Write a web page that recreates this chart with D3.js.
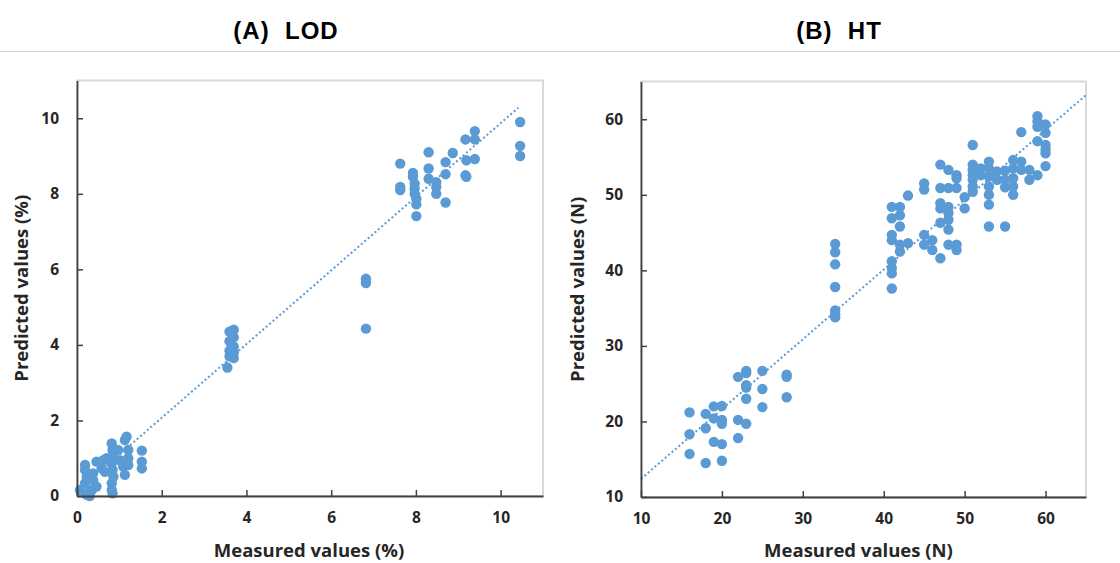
<!DOCTYPE html>
<html>
<head>
<meta charset="utf-8">
<script src="https://cdn.jsdelivr.net/npm/d3@7"></script>
<style>
  html, body { margin: 0; padding: 0; background: #ffffff; }
  svg { display: block; }
  text { white-space: pre; }
</style>
</head>
<body>
<svg id="chart" width="1120" height="563"></svg>
<script>
// ---- Panel A: LOD (%) ----
const lodMeasured = [
  0.07, 0.23, 0.30, 0.25, 0.28, 0.19, 0.19, 0.23, 0.19, 0.38, 0.46, 0.46, 0.35, 0.38,
  0.58, 0.62, 0.66, 0.70,
  0.82, 0.84, 0.84, 0.82, 0.84, 0.86, 0.82, 0.82, 0.84,
  0.97, 1.01, 1.09, 1.13, 1.17, 1.13, 1.21, 1.21, 1.21, 1.53, 1.53, 1.53,
  3.60, 3.70, 3.60, 3.70, 3.65, 3.70, 3.60, 3.70, 3.60, 3.70, 3.55, 3.65,
  6.82, 6.82, 6.82,
  7.63, 7.63, 7.63, 7.93, 7.93, 7.97, 7.97, 7.97, 8.01, 8.01, 8.01,
  8.30, 8.30, 8.30, 8.48, 8.48, 8.48, 8.70, 8.70, 8.70, 8.87,
  9.17, 9.19, 9.17, 9.19, 9.39, 9.39, 9.39,
  10.46, 10.46, 10.46
];
const lodPredicted = [
  0.16, 0.03, 0.00, 0.05, 0.10, 0.82, 0.69, 0.51, 0.34, 0.42, 0.25, 0.91, 0.16, 0.60,
  0.73, 0.95, 0.64, 1.00,
  1.39, 1.22, 1.04, 0.86, 0.69, 0.51, 0.34, 0.16, 0.07,
  1.22, 0.95, 0.78, 0.56, 1.57, 1.48, 1.22, 1.00, 0.82, 1.20, 0.91, 0.73,
  4.35, 4.40, 4.10, 4.20, 4.00, 3.95, 3.85, 3.80, 3.70, 3.65, 3.40, 3.75,
  5.75, 5.64, 4.43,
  8.80, 8.18, 8.10, 8.55, 8.45, 8.27, 8.14, 8.00, 7.87, 7.72, 7.41,
  9.10, 8.67, 8.40, 8.31, 8.18, 8.00, 8.84, 8.52, 7.77, 9.08,
  9.44, 8.89, 8.49, 8.45, 9.66, 9.44, 8.92,
  9.90, 9.27, 9.00
];
const lodTicks = [0, 2, 4, 6, 8, 10];
const lodDomain = [0, 11];
const lodTrend = [[0.05, 0.17], [10.42, 10.28]];

// ---- Panel B: HT (N) ----
const htMeasured = [
  16, 16, 16, 18, 18, 18, 19, 20, 19, 19, 20, 20, 20, 20,
  22, 22, 22, 23, 23, 23, 23, 23, 23, 25, 25, 25, 28, 28, 28,
  34, 34, 34, 34, 34, 34, 34,
  41, 41, 41, 41, 41, 41, 41, 41, 42, 42, 42, 42, 42, 43, 43,
  45, 45, 45, 45, 46, 46, 47, 47, 47, 47, 47, 47,
  48, 49, 49, 48, 49, 48, 48, 48, 48, 48, 49, 49, 50, 50,
  51, 51, 51, 51, 51, 51, 51, 52, 52,
  53, 53, 53, 53, 53, 53, 53, 54, 54, 55, 55, 55, 55,
  56, 56, 56, 56, 56, 57, 57, 57, 58, 58,
  59, 59, 59, 60, 60, 59, 60, 60, 60, 59, 60
];
const htPredicted = [
  21.2, 18.3, 15.7, 21.0, 19.1, 14.5, 22.0, 22.05, 20.4, 17.3, 20.2, 19.7, 17.0, 14.8,
  25.9, 20.2, 17.8, 26.7, 26.4, 24.8, 24.5, 23.0, 19.7, 26.7, 24.3, 21.9, 26.2, 25.9, 23.2,
  43.5, 42.4, 40.8, 37.8, 34.7, 34.2, 33.8,
  37.6, 41.2, 40.3, 39.6, 44.7, 44.0, 48.4, 46.9, 48.4, 47.3, 45.8, 43.4, 42.5, 49.9, 43.6,
  51.5, 50.7, 44.7, 43.4, 44.0, 42.7, 54.0, 50.9, 48.9, 48.2, 46.3, 41.6,
  53.3, 52.6, 52.2, 50.9, 50.9, 48.4, 47.6, 46.7, 45.4, 43.4, 43.4, 42.7, 49.7, 48.2,
  56.6, 54.0, 53.3, 52.6, 52.0, 51.1, 50.4, 53.5, 52.6,
  54.4, 53.5, 52.4, 51.1, 50.0, 48.7, 45.8, 53.1, 52.0, 53.2, 52.0, 51.0, 45.8,
  54.6, 53.5, 52.2, 51.1, 50.0, 54.4, 53.3, 58.3, 53.3, 52.0,
  60.4, 59.7, 59.0, 59.3, 58.2, 57.1, 56.6, 56.0, 55.5, 52.6, 53.8
];
const htTicks = [10, 20, 30, 40, 50, 60];
const htDomain = [10, 65];
const htTrend = [[10, 12.4], [65, 63.2]];

const markerColor = "#5b9bd5";
const axisColor = "#404040";
const textColor = "#262626";
const labelFont = "'Open Sans', 'Noto Sans', sans-serif";
const titleFont = "'Liberation Sans', Arial, sans-serif";

const svg = d3.select("#chart");

// thin separator under the titles
svg.append("line")
  .attr("x1", 0).attr("x2", 1120)
  .attr("y1", 51.5).attr("y2", 51.5)
  .attr("stroke", "#d0d0d0").attr("stroke-width", 1.2);

function panel(cfg) {
  const x = d3.scaleLinear().domain(cfg.domain).range([cfg.left, cfg.right]);
  const y = d3.scaleLinear().domain(cfg.domain).range([cfg.bottom, cfg.top]);
  const g = svg.append("g");

  // title
  svg.append("text")
    .attr("x", cfg.titleX).attr("y", 39)
    .attr("text-anchor", "middle")
    .attr("font-family", titleFont)
    .attr("font-weight", "bold")
    .attr("font-size", 24)
    .attr("letter-spacing", 1)
    .attr("fill", "#000")
    .text(cfg.title);

  // plot frame
  g.append("rect")
    .attr("x", cfg.left).attr("y", cfg.top)
    .attr("width", cfg.right - cfg.left).attr("height", cfg.bottom - cfg.top)
    .attr("fill", "none").attr("stroke", "#d9d9d9").attr("stroke-width", 2);

  // trend line
  g.append("line")
    .attr("x1", x(cfg.trend[0][0])).attr("y1", y(cfg.trend[0][1]))
    .attr("x2", x(cfg.trend[1][0])).attr("y2", y(cfg.trend[1][1]))
    .attr("stroke", markerColor).attr("stroke-width", 2)
    .attr("stroke-dasharray", "2,2.5");

  // points
  g.append("g").selectAll("circle")
    .data(cfg.xs.map((v, i) => [v, cfg.ys[i]]))
    .join("circle")
    .attr("cx", d => x(d[0]))
    .attr("cy", d => y(d[1]))
    .attr("r", 5.2)
    .attr("fill", markerColor);

  // axes with inward ticks
  const xAxis = d3.axisBottom(x).tickValues(cfg.ticks).tickSizeInner(-6).tickSizeOuter(0).tickPadding(16);
  const yAxis = d3.axisLeft(y).tickValues(cfg.ticks).tickSizeInner(-6).tickSizeOuter(0).tickPadding(18);

  const gx = g.append("g").attr("transform", `translate(0,${cfg.bottom})`).call(xAxis);
  const gy = g.append("g").attr("transform", `translate(${cfg.left},0)`).call(yAxis);
  [gx, gy].forEach(a => {
    a.select(".domain").attr("stroke", axisColor).attr("stroke-width", 1.8);
    a.selectAll(".tick line").attr("stroke", axisColor).attr("stroke-width", 1.5);
    a.selectAll(".tick text")
      .attr("font-family", labelFont)
      .attr("font-weight", "bold")
      .attr("font-size", 15.5)
      .attr("fill", textColor);
  });

  // axis titles
  svg.append("text")
    .attr("x", (cfg.left + cfg.right) / 2 + cfg.xLabelShift).attr("y", 557)
    .attr("text-anchor", "middle")
    .attr("font-family", labelFont).attr("font-weight", "bold").attr("font-size", 18.5)
    .attr("fill", textColor)
    .text(cfg.xLabel);
  svg.append("text")
    .attr("transform", `translate(${cfg.yLabelX},${(cfg.top + cfg.bottom) / 2}) rotate(-90)`)
    .attr("text-anchor", "middle")
    .attr("font-family", labelFont).attr("font-weight", "bold").attr("font-size", 18.5)
    .attr("fill", textColor)
    .text(cfg.yLabel);
}

panel({
  title: "(A)  LOD", titleX: 286,
  left: 77, right: 543, top: 80.5, bottom: 496,
  domain: lodDomain, ticks: lodTicks,
  xs: lodMeasured, ys: lodPredicted, trend: lodTrend,
  xLabel: "Measured values (%)", xLabelShift: -1,
  yLabel: "Predicted values (%)", yLabelX: 28
});

panel({
  title: "(B)  HT", titleX: 839,
  left: 641, right: 1086, top: 81.5, bottom: 497,
  domain: htDomain, ticks: htTicks,
  xs: htMeasured, ys: htPredicted, trend: htTrend,
  xLabel: "Measured values (N)", xLabelShift: -5,
  yLabel: "Predicted values (N)", yLabelX: 584
});
</script>
</body>
</html>
